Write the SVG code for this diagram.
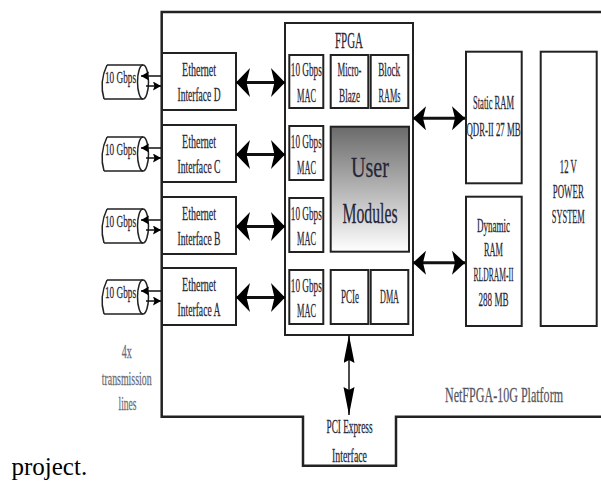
<svg xmlns="http://www.w3.org/2000/svg" width="601" height="482" viewBox="0 0 601 482">
<style>
.box{fill:#fff;stroke:#222;stroke-width:2}
.plat{fill:none;stroke:#222;stroke-width:2.5}
.t{font-family:"Liberation Serif","Times New Roman",serif;fill:#262636;stroke:#262636;stroke-width:0.25;text-anchor:middle;font-size:18.5px}
.g{fill:#6b6b75;stroke:#6b6b75}
.cab{fill:none;stroke:#222;stroke-width:1.5}
.big{stroke:#111;stroke-width:3;fill:none}
.sm{stroke:#111;stroke-width:1.5;fill:none}
</style>
<defs>
<linearGradient id="um" x1="0" y1="0" x2="0" y2="1">
<stop offset="0" stop-color="#6a6a6a"/>
<stop offset="1" stop-color="#ffffff"/>
</linearGradient>
<marker id="hB" markerUnits="userSpaceOnUse" markerWidth="16" markerHeight="30" viewBox="0 0 16 30" refX="14" refY="14.5" orient="auto-start-reverse">
<path d="M0,0 L14,14.5 L0,29 L3.5,14.5 Z" fill="#000"/>
</marker>
<marker id="hM" markerUnits="userSpaceOnUse" markerWidth="15" markerHeight="25" viewBox="0 0 15 25" refX="13" refY="12" orient="auto-start-reverse">
<path d="M0,0 L13,12 L0,24 L3,12 Z" fill="#000"/>
</marker>
<marker id="hV" markerUnits="userSpaceOnUse" markerWidth="30" markerHeight="12" viewBox="0 0 30 12" refX="28" refY="5.5" orient="auto-start-reverse">
<path d="M0,0 L28,5.5 L0,11 L3,5.5 Z" fill="#000"/>
</marker>
<marker id="hS" markerUnits="userSpaceOnUse" markerWidth="10" markerHeight="10" viewBox="0 0 10 10" refX="8" refY="4.5" orient="auto">
<path d="M0,0 L8,4.5 L0,9 L1.5,4.5 Z" fill="#000"/>
</marker>
</defs>

<g id="platform">
<path class="plat" d="M602,12 H161.7 V416.7 H303 V465.7 H396 V416.7 H602"/>
<text class="t" transform="translate(504 0) scale(.6 1)" y="402" style="fill:#555560;stroke:#555560;font-size:22px" textLength="196.7" lengthAdjust="spacingAndGlyphs">NetFPGA-10G Platform</text>
<text class="t" transform="translate(349.5 0) scale(.6 1)" y="433" textLength="76.7" lengthAdjust="spacingAndGlyphs">PCI Express</text>
<text class="t" transform="translate(349.5 0) scale(.6 1)" y="462" textLength="58.3" lengthAdjust="spacingAndGlyphs">Interface</text>
</g>

<g id="lines-label">
<text class="t g" transform="translate(126.7 0) scale(.6 1)" y="358" textLength="16.7" lengthAdjust="spacingAndGlyphs">4x</text>
<text class="t g" transform="translate(126.7 0) scale(.6 1)" y="385" textLength="83.3" lengthAdjust="spacingAndGlyphs">transmission</text>
<text class="t g" transform="translate(127.5 0) scale(.6 1)" y="410.5" textLength="30" lengthAdjust="spacingAndGlyphs">lines</text>
</g>

<g id="cable-d">
<path class="cab" d="M107,65 Q99,82 104,99 M107,65 H143 M104,99 H143"/>
<ellipse class="cab" cx="143" cy="82" rx="5.5" ry="17"/>
<text class="t" transform="translate(120.5 0) scale(.6 1)" y="83.5" style="font-size:17px" textLength="51.7" lengthAdjust="spacingAndGlyphs">10 Gbps</text>
</g>
<g id="cable-c">
<path class="cab" d="M107,137 Q99,154 104,171 M107,137 H143 M104,171 H143"/>
<ellipse class="cab" cx="143" cy="154" rx="5.5" ry="17"/>
<text class="t" transform="translate(120.5 0) scale(.6 1)" y="155.5" style="font-size:17px" textLength="51.7" lengthAdjust="spacingAndGlyphs">10 Gbps</text>
</g>
<g id="cable-b">
<path class="cab" d="M107,209 Q99,226 104,243 M107,209 H143 M104,243 H143"/>
<ellipse class="cab" cx="143" cy="226" rx="5.5" ry="17"/>
<text class="t" transform="translate(120.5 0) scale(.6 1)" y="227.5" style="font-size:17px" textLength="51.7" lengthAdjust="spacingAndGlyphs">10 Gbps</text>
</g>
<g id="cable-a">
<path class="cab" d="M107,280 Q99,297 104,314 M107,280 H143 M104,314 H143"/>
<ellipse class="cab" cx="143" cy="297" rx="5.5" ry="17"/>
<text class="t" transform="translate(120.5 0) scale(.6 1)" y="298.5" style="font-size:17px" textLength="51.7" lengthAdjust="spacingAndGlyphs">10 Gbps</text>
</g>

<g id="eth-d">
<rect class="box" x="162" y="53" width="74" height="57"/>
<text class="t" transform="translate(199 0) scale(.6 1)" y="76" textLength="56.7" lengthAdjust="spacingAndGlyphs">Ethernet</text>
<text class="t" transform="translate(199 0) scale(.6 1)" y="101.5" textLength="71.7" lengthAdjust="spacingAndGlyphs">Interface D</text>
</g>
<g id="eth-c">
<rect class="box" x="162" y="125" width="74" height="57"/>
<text class="t" transform="translate(199 0) scale(.6 1)" y="148" textLength="56.7" lengthAdjust="spacingAndGlyphs">Ethernet</text>
<text class="t" transform="translate(199 0) scale(.6 1)" y="173.5" textLength="71.7" lengthAdjust="spacingAndGlyphs">Interface C</text>
</g>
<g id="eth-b">
<rect class="box" x="162" y="197" width="74" height="57"/>
<text class="t" transform="translate(199 0) scale(.6 1)" y="220" textLength="56.7" lengthAdjust="spacingAndGlyphs">Ethernet</text>
<text class="t" transform="translate(199 0) scale(.6 1)" y="245.5" textLength="71.7" lengthAdjust="spacingAndGlyphs">Interface B</text>
</g>
<g id="eth-a">
<rect class="box" x="162" y="268" width="74" height="57"/>
<text class="t" transform="translate(199 0) scale(.6 1)" y="291" textLength="56.7" lengthAdjust="spacingAndGlyphs">Ethernet</text>
<text class="t" transform="translate(199 0) scale(.6 1)" y="316.5" textLength="71.7" lengthAdjust="spacingAndGlyphs">Interface A</text>
</g>

<g id="fpga">
<rect class="box" x="285" y="23" width="128" height="312"/>
<text class="t" transform="translate(349 0) scale(.6 1)" y="48" style="font-size:24px" textLength="46.7" lengthAdjust="spacingAndGlyphs">FPGA</text>
</g>
<g id="mac-1">
<rect class="box" x="289.3" y="55" width="34" height="53"/>
<text class="t" transform="translate(306.3 0) scale(.6 1)" y="76" textLength="51.7" lengthAdjust="spacingAndGlyphs">10 Gbps</text>
<text class="t" transform="translate(306.6 0) scale(.6 1)" y="102.5" textLength="31.7" lengthAdjust="spacingAndGlyphs">MAC</text>
</g>
<g id="microblaze">
<rect class="box" x="330.7" y="55" width="37.6" height="53"/>
<text class="t" transform="translate(349.5 0) scale(.6 1)" y="76" textLength="40" lengthAdjust="spacingAndGlyphs">Micro-</text>
<text class="t" transform="translate(349.5 0) scale(.6 1)" y="102.5" textLength="35" lengthAdjust="spacingAndGlyphs">Blaze</text>
</g>
<g id="blockrams">
<rect class="box" x="370.7" y="55" width="37.6" height="53"/>
<text class="t" transform="translate(389.2 0) scale(.6 1)" y="76" textLength="36.7" lengthAdjust="spacingAndGlyphs">Block</text>
<text class="t" transform="translate(389.5 0) scale(.6 1)" y="102.5" textLength="36.7" lengthAdjust="spacingAndGlyphs">RAMs</text>
</g>
<g id="mac-2">
<rect class="box" x="289.3" y="126" width="34" height="54"/>
<text class="t" transform="translate(306.3 0) scale(.6 1)" y="148" textLength="51.7" lengthAdjust="spacingAndGlyphs">10 Gbps</text>
<text class="t" transform="translate(306.6 0) scale(.6 1)" y="174" textLength="31.7" lengthAdjust="spacingAndGlyphs">MAC</text>
</g>
<g id="user-modules">
<rect x="330.7" y="126.7" width="78.3" height="125" fill="url(#um)" stroke="#222" stroke-width="2"/>
<text class="t" transform="translate(370 0) scale(.6 1)" y="177" style="font-size:30px" textLength="63.3" lengthAdjust="spacingAndGlyphs">User</text>
<text class="t" transform="translate(370 0) scale(.6 1)" y="223" style="font-size:30px" textLength="91.7" lengthAdjust="spacingAndGlyphs">Modules</text>
</g>
<g id="mac-3">
<rect class="box" x="289.3" y="198" width="34" height="54"/>
<text class="t" transform="translate(306.3 0) scale(.6 1)" y="220" textLength="51.7" lengthAdjust="spacingAndGlyphs">10 Gbps</text>
<text class="t" transform="translate(306.6 0) scale(.6 1)" y="245" textLength="31.7" lengthAdjust="spacingAndGlyphs">MAC</text>
</g>
<g id="mac-4">
<rect class="box" x="289.3" y="270" width="34" height="54"/>
<text class="t" transform="translate(306.3 0) scale(.6 1)" y="292" textLength="51.7" lengthAdjust="spacingAndGlyphs">10 Gbps</text>
<text class="t" transform="translate(306.6 0) scale(.6 1)" y="317" textLength="31.7" lengthAdjust="spacingAndGlyphs">MAC</text>
</g>
<g id="pcie">
<rect class="box" x="330.7" y="270" width="37.6" height="54"/>
<text class="t" transform="translate(350 0) scale(.6 1)" y="303" textLength="30" lengthAdjust="spacingAndGlyphs">PCIe</text>
</g>
<g id="dma">
<rect class="box" x="370.7" y="270" width="37.6" height="54"/>
<text class="t" transform="translate(389.5 0) scale(.6 1)" y="303" textLength="31.7" lengthAdjust="spacingAndGlyphs">DMA</text>
</g>

<g id="sram">
<rect class="box" x="466" y="51.7" width="55.7" height="131.6"/>
<text class="t" transform="translate(493.5 0) scale(.6 1)" y="109" textLength="68.3" lengthAdjust="spacingAndGlyphs">Static RAM</text>
<text class="t" transform="translate(493.5 0) scale(.6 1)" y="136" textLength="90" lengthAdjust="spacingAndGlyphs">QDR-II 27 MB</text>
</g>
<g id="dram">
<rect class="box" x="466" y="196.7" width="55.7" height="129.3"/>
<text class="t" transform="translate(493.5 0) scale(.6 1)" y="232" textLength="55" lengthAdjust="spacingAndGlyphs">Dynamic</text>
<text class="t" transform="translate(493.5 0) scale(.6 1)" y="256" textLength="31.7" lengthAdjust="spacingAndGlyphs">RAM</text>
<text class="t" transform="translate(493.5 0) scale(.6 1)" y="281" textLength="66.7" lengthAdjust="spacingAndGlyphs">RLDRAM-II</text>
<text class="t" transform="translate(493.5 0) scale(.6 1)" y="306" textLength="50" lengthAdjust="spacingAndGlyphs">288 MB</text>
</g>
<g id="power">
<rect class="box" x="540.7" y="51.7" width="56" height="274.3"/>
<text class="t" transform="translate(568.3 0) scale(.6 1)" y="173" textLength="28.3" lengthAdjust="spacingAndGlyphs">12 V</text>
<text class="t" transform="translate(568.3 0) scale(.6 1)" y="198" textLength="51.7" lengthAdjust="spacingAndGlyphs">POWER</text>
<text class="t" transform="translate(568.3 0) scale(.6 1)" y="223" textLength="55" lengthAdjust="spacingAndGlyphs">SYSTEM</text>
</g>

<g id="connectors">
<line class="big" x1="236" y1="82.5" x2="285" y2="82.5" marker-start="url(#hB)" marker-end="url(#hB)"/>
<line class="big" x1="236" y1="154.5" x2="285" y2="154.5" marker-start="url(#hB)" marker-end="url(#hB)"/>
<line class="big" x1="236" y1="226.5" x2="285" y2="226.5" marker-start="url(#hB)" marker-end="url(#hB)"/>
<line class="big" x1="236" y1="297.5" x2="285" y2="297.5" marker-start="url(#hB)" marker-end="url(#hB)"/>
<line class="big" x1="413" y1="118.3" x2="465" y2="118.3" marker-start="url(#hM)" marker-end="url(#hM)"/>
<line class="big" x1="413" y1="262.7" x2="465" y2="262.7" marker-start="url(#hM)" marker-end="url(#hM)"/>
<line class="sm" stroke-width="2" x1="349" y1="335" x2="349" y2="415" marker-start="url(#hV)" marker-end="url(#hV)"/>
<line class="sm" x1="161" y1="76" x2="141" y2="76" marker-end="url(#hS)"/>
<line class="sm" x1="146" y1="86" x2="161" y2="86" marker-end="url(#hS)"/>
<line class="sm" x1="161" y1="148" x2="141" y2="148" marker-end="url(#hS)"/>
<line class="sm" x1="146" y1="158" x2="161" y2="158" marker-end="url(#hS)"/>
<line class="sm" x1="161" y1="220" x2="141" y2="220" marker-end="url(#hS)"/>
<line class="sm" x1="146" y1="230" x2="161" y2="230" marker-end="url(#hS)"/>
<line class="sm" x1="161" y1="291" x2="141" y2="291" marker-end="url(#hS)"/>
<line class="sm" x1="146" y1="301" x2="161" y2="301" marker-end="url(#hS)"/>
</g>

<text x="11.5" y="475" style="font-family:'Liberation Serif','Times New Roman',serif;font-size:25px;fill:#000">project.</text>
</svg>
